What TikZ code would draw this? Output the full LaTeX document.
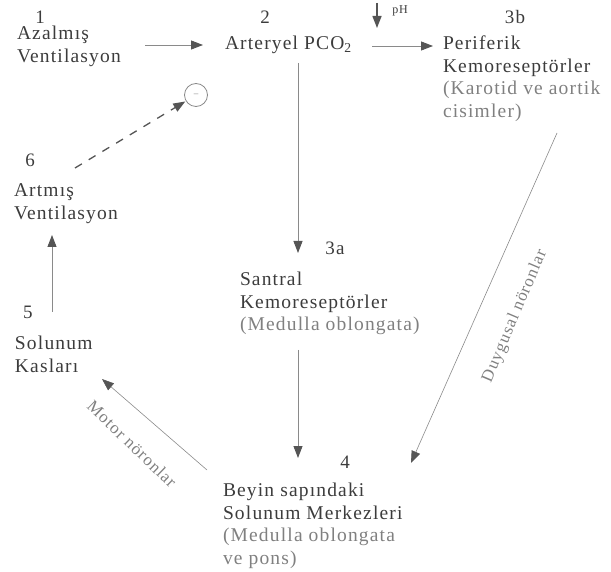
\documentclass[tikz,border=0pt]{standalone}
\usepackage{fontspec}
\setmainfont{Liberation Serif}[LetterSpace=6]
\usetikzlibrary{arrows.meta}
\definecolor{txtdark}{HTML}{3C3C3C}
\definecolor{txtlight}{HTML}{808080}
\definecolor{arrgray}{HTML}{8A8A8A}
\definecolor{arrdark}{HTML}{555555}
\begin{document}
\begin{tikzpicture}[x=1pt,y=-1pt,
  every node/.style={inner sep=0pt, outer sep=0pt},
  main/.style={font=\fontsize{19.5}{22.5}\selectfont, text=txtdark, align=left, anchor=north west},
  num/.style={font=\fontsize{19}{22}\selectfont, text=txtdark},
  side/.style={font=\fontsize{17}{20}\selectfont, text=txtlight},
  arr/.style={draw=arrgray, line width=0.9pt, -{Triangle[length=12pt,width=9pt,color=arrdark]}},
]
\useasboundingbox (0,0) rectangle (611,572);

% nodes
\node[num] (n1) at (40,17) {1};
\node[main] (b1) at (17,26) {Azalmış\\Ventilasyon};
\node[num] (n2) at (265,17) {2};
\node[main] (b2) at (225,36) {Arteryel PCO\textsubscript{2}};
\node[num] (n3b) at (515,17) {3b};
\node[main] (b3b) at (443,36) {Periferik\\Kemoreseptörler\\\textcolor{txtlight}{(Karotid ve aortik}\\\textcolor{txtlight}{cisimler)}};
\node[num] (n6) at (30,160) {6};
\node[main] (b6) at (14,184) {Artmış\\Ventilasyon};
\node[num] (n5) at (28,312) {5};
\node[main] (b5) at (15,336) {Solunum\\Kasları};
\node[num] (n3a) at (335,248) {3a};
\node[main] (b3a) at (240,272) {Santral\\Kemoreseptörler\\\textcolor{txtlight}{(Medulla oblongata)}};
\node[num] (n4) at (345,462) {4};
\node[main] (b4) at (223,483) {Beyin sapındaki\\Solunum Merkezleri\\\textcolor{txtlight}{(Medulla oblongata}\\\textcolor{txtlight}{ve pons)}};
\node[draw=arrgray, circle, minimum size=23pt, line width=0.8pt, font=\fontsize{9}{9}\selectfont, text=txtlight] (minus) at (196,95) {--};
\node[font=\fontsize{12}{12}\selectfont, text=txtdark] (ph) at (400,11) {pH};

% arrow end points
\coordinate (s12) at (145,45);  \coordinate (e12) at (203,45);
\coordinate (s23b) at (372,46); \coordinate (e23b) at (433,46);
\coordinate (s23a) at (298,63); \coordinate (e23a) at (298,253);
\coordinate (s3a4) at (298,350); \coordinate (e3a4) at (298,458);
\coordinate (s3b4) at (557,133); \coordinate (e3b4) at (411,463);
\coordinate (s45) at (207,470); \coordinate (e45) at (102,379);
\coordinate (s56) at (52,312); \coordinate (e56) at (52,235);
\coordinate (s6c) at (75,168);
\coordinate (sph) at (377,3); \coordinate (eph) at (377,28);

% connectors
\draw[arr] (s12) -- (e12);
\draw[arr] (s23b) -- (e23b);
\draw[arr] (s23a) -- (e23a);
\draw[arr] (s3a4) -- (e3a4);
\draw[arr, line width=0.6pt] (s3b4) -- (e3b4);
\draw[arr, line width=0.6pt] (s45) -- (e45);
\draw[arr] (s56) -- (e56);
\draw[arr, draw=arrdark, line width=1.3pt, dash pattern=on 8pt off 8pt, shorten >=1pt] (s6c) -- (minus);
\draw[arr, draw=arrdark, line width=1.4pt] (sph) -- (eph);

% connector labels
\node[side, rotate=67] (lduy) at (515,316) {Duygusal nöronlar};
\node[side, rotate=-44] (lmot) at (132,444) {Motor nöronlar};
\end{tikzpicture}
\end{document}
